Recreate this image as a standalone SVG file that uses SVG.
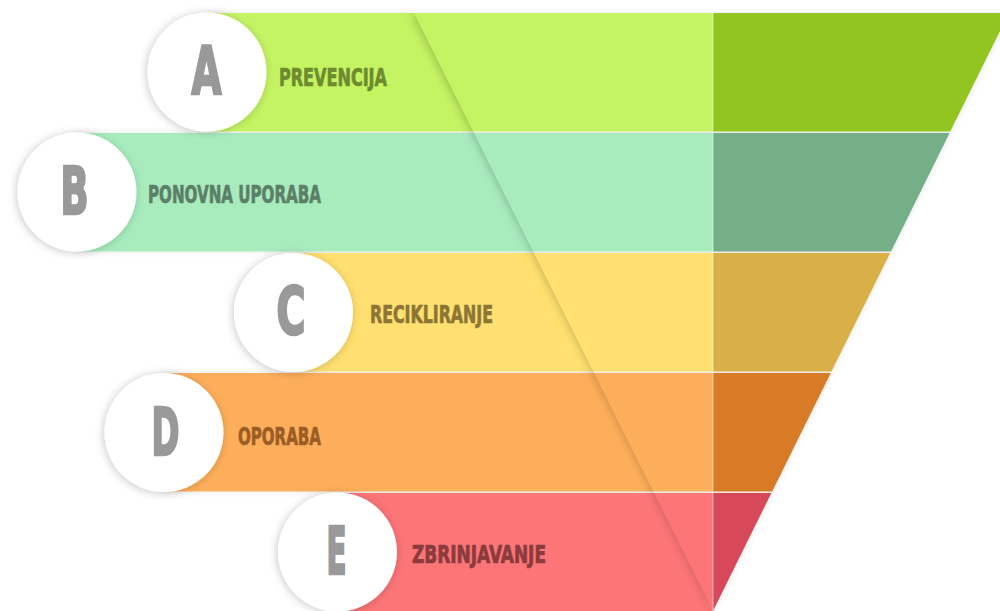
<svg xmlns="http://www.w3.org/2000/svg" width="1000" height="611" viewBox="0 0 1000 611">
  <defs>
    <filter id="circShadow" x="-30%" y="-30%" width="160%" height="160%">
      <feDropShadow dx="-1" dy="1" stdDeviation="4" flood-color="#000" flood-opacity="0.22"/>
    </filter>
    <filter id="bandShadow" x="-10%" y="-20%" width="120%" height="140%">
      <feDropShadow dx="0" dy="0" stdDeviation="3" flood-color="#000" flood-opacity="0.10"/>
    </filter>
    <filter id="blur5" x="-20%" y="-10%" width="140%" height="120%">
      <feGaussianBlur stdDeviation="5"/>
    </filter>
    <clipPath id="leftOfFold">
      <polygon points="0,13 414,13 713,611 0,611"/>
    </clipPath>
    <style>
      .circle { fill: #ffffff; filter: url(#circShadow); }
      .letter { font-family: 'Liberation Sans Narrow', 'DejaVu Sans Condensed', 'Liberation Sans', sans-serif; font-weight: bold; font-size: 66px; fill: #999999; stroke: #999999; stroke-width: 2.6; stroke-linejoin: miter; }
      .label { font-family: 'Liberation Sans Narrow', 'DejaVu Sans Condensed', 'Liberation Sans', sans-serif; font-weight: bold; font-size: 24px; stroke-width: 0.7; }
      .divider { stroke: #ffffff; stroke-opacity: 0.45; stroke-width: 1.2; }
    </style>
  </defs>

  <rect x="0" y="0" width="1000" height="611" fill="#ffffff"/>

  <g id="bands" filter="url(#bandShadow)">
    <rect x="207" y="13" width="506" height="118.5" fill="#C5F464"/>
    <polygon points="713,13 1009,13 950.3,131.5 713,131.5" fill="#93C523"/>
    <rect x="77" y="133" width="636" height="118.5" fill="#A8ECBE"/>
    <polygon points="713,133 949.6,133 891,251.5 713,251.5" fill="#74AF87"/>
    <rect x="293" y="253" width="420" height="118.5" fill="#FFE070"/>
    <polygon points="713,253 890.2,253 831.5,371.5 713,371.5" fill="#D9B047"/>
    <rect x="164" y="373" width="549" height="118.5" fill="#FDAE5A"/>
    <polygon points="713,373 830.8,373 772.2,491.5 713,491.5" fill="#D97A25"/>
    <rect x="337" y="493" width="376" height="118" fill="#FC7477"/>
    <polygon points="713,493 771.4,493 713,611" fill="#D74A58"/>
  </g>

  <g id="fold-shadow" clip-path="url(#leftOfFold)">
    <polygon points="411,13 713,13 713,611" fill="#000" fill-opacity="0.2" filter="url(#blur5)"/>
  </g>

  <g id="connectors">
    <line class="divider" x1="713" y1="13" x2="713" y2="611"/>
  </g>

  <g id="node-a">
    <circle class="circle" cx="207" cy="72" r="59.5"/>
    <text class="letter" x="191.5" y="94" textLength="30" lengthAdjust="spacingAndGlyphs">A</text>
    <text class="label" x="279" y="86" fill="#6E8B2F" stroke="#6E8B2F" textLength="108" lengthAdjust="spacingAndGlyphs">PREVENCIJA</text>
  </g>

  <g id="node-b">
    <circle class="circle" cx="77" cy="192" r="59.5"/>
    <text class="letter" x="60.5" y="214" textLength="28" lengthAdjust="spacingAndGlyphs">B</text>
    <text class="label" x="148" y="203" fill="#5B7F67" stroke="#5B7F67" textLength="173" lengthAdjust="spacingAndGlyphs">PONOVNA UPORABA</text>
  </g>

  <g id="node-c">
    <circle class="circle" cx="293.5" cy="312.5" r="59.5"/>
    <text class="letter" x="276.5" y="334" textLength="29" lengthAdjust="spacingAndGlyphs">C</text>
    <text class="label" x="370" y="323" fill="#8C7535" stroke="#8C7535" textLength="123" lengthAdjust="spacingAndGlyphs">RECIKLIRANJE</text>
  </g>

  <g id="node-d">
    <circle class="circle" cx="164" cy="432.5" r="59.5"/>
    <text class="letter" x="151.5" y="455" textLength="28" lengthAdjust="spacingAndGlyphs">D</text>
    <text class="label" x="238" y="445" fill="#9A5D25" stroke="#9A5D25" textLength="83" lengthAdjust="spacingAndGlyphs">OPORABA</text>
  </g>

  <g id="node-e">
    <circle class="circle" cx="337.5" cy="552" r="59.5"/>
    <text class="letter" x="326.5" y="574" textLength="20" lengthAdjust="spacingAndGlyphs">E</text>
    <text class="label" x="412" y="563" fill="#8B3A3D" stroke="#8B3A3D" textLength="134" lengthAdjust="spacingAndGlyphs">ZBRINJAVANJE</text>
  </g>
</svg>
